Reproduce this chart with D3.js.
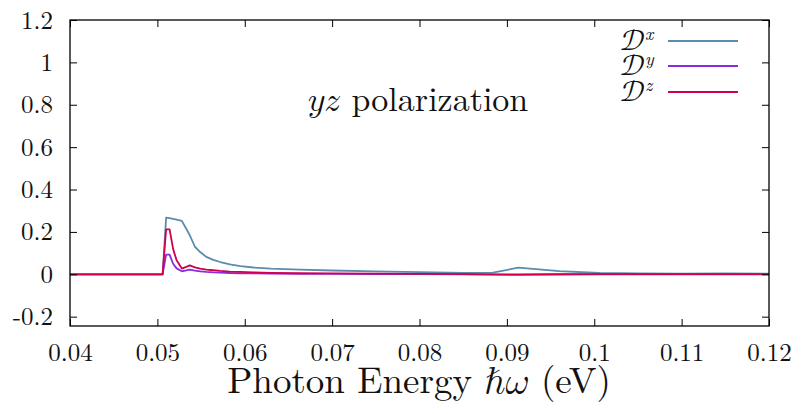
<!DOCTYPE html>
<html>
<head>
<meta charset="utf-8">
<script src="https://cdn.jsdelivr.net/npm/d3@7"></script>
<style>
  html, body { margin: 0; padding: 0; background: #fff; }
  svg { display: block; }
</style>
</head>
<body>
<svg id="chart" width="801" height="414"></svg>
<script>
// Photon energy grid (eV)
const energy = [0.04, 0.0506, 0.0510, 0.0514, 0.0518, 0.0522, 0.0528, 0.0533, 0.0537, 0.0543,
  0.0549, 0.0556, 0.0564, 0.0572, 0.0583, 0.0595, 0.061, 0.063, 0.0663, 0.07,
  0.075, 0.08, 0.085, 0.0884, 0.0913, 0.096, 0.1006, 0.105, 0.11, 0.115, 0.12];

// Spectra for each component
const dx = [0, 0, 0.267, 0.265, 0.262, 0.258, 0.252, 0.215, 0.185, 0.13,
  0.105, 0.082, 0.068, 0.058, 0.047, 0.039, 0.032, 0.027, 0.022, 0.018,
  0.014, 0.010, 0.006, 0.008, 0.031, 0.015, 0.006, 0.004, 0.003, 0.004, 0.003];
const dy = [0, 0, 0.093, 0.093, 0.05, 0.028, 0.014, 0.018, 0.022, 0.017,
  0.014, 0.011, 0.009, 0.008, 0.006, 0.005, 0.004, 0.003, 0.002, 0.002,
  0.001, 0.001, 0.0, -0.002, -0.003, -0.001, 0.0, 0.0, 0.0, 0.0, 0.0];
const dz = [0, 0, 0.212, 0.212, 0.12, 0.066, 0.027, 0.035, 0.042, 0.033,
  0.027, 0.022, 0.019, 0.016, 0.013, 0.011, 0.009, 0.007, 0.005, 0.004,
  0.003, 0.002, 0.001, 0.0, 0.0, 0.001, 0.001, 0.001, 0.001, 0.001, 0.001];

const seriesNames = ["x", "y", "z"];
const seriesColors = ["#5b8cad", "#8a2be2", "#d1004f"];
const seriesValues = [dx, dy, dz];

const xTicks = [0.04, 0.05, 0.06, 0.07, 0.08, 0.09, 0.1, 0.11, 0.12];
const yTicks = [-0.2, 0, 0.2, 0.4, 0.6, 0.8, 1, 1.2];

const ROMAN = '"Latin Modern Roman", "Liberation Serif", serif';
const MATH = '"Latin Modern Math", "Latin Modern Roman", "Liberation Serif", serif';

const svg = d3.select("#chart");
const m = { left: 70, right: 769, top: 20, bottom: 326 };

const x = d3.scaleLinear().domain([0.04, 0.12]).range([m.left, m.right]);
const y = d3.scaleLinear().domain([-0.244, 1.2]).range([m.bottom, m.top]);

const fmt = v => (v === 0 ? "0" : String(+v.toFixed(3)));

// Curves
const line = d3.line().x((d, i) => x(energy[i])).y(d => y(d));
const plot = svg.append("g");
seriesValues.forEach((vals, k) => {
  plot.append("path")
    .datum(vals)
    .attr("d", line)
    .attr("fill", "none")
    .attr("stroke", seriesColors[k])
    .attr("stroke-width", 1.8)
    .attr("stroke-linejoin", "round");
});

// Axes with inward, mirrored ticks
const tickLen = 7;
const axB = d3.axisBottom(x).tickValues(xTicks).tickSize(-tickLen).tickPadding(17).tickFormat(fmt);
const axT = d3.axisTop(x).tickValues(xTicks).tickSize(-tickLen).tickFormat("");
const axL = d3.axisLeft(y).tickValues(yTicks).tickSize(-tickLen).tickPadding(17).tickFormat(fmt);
const axR = d3.axisRight(y).tickValues(yTicks).tickSize(-tickLen).tickFormat("");

function style(g) {
  g.attr("font-family", null).attr("font-size", null);
  g.select(".domain").remove();
  g.selectAll(".tick line").attr("stroke", "#000").attr("stroke-width", 1);
  g.selectAll(".tick text")
    .style("font-family", ROMAN).style("font-size", "25px").attr("fill", "#111");
}
svg.append("g").attr("transform", `translate(0,${m.bottom})`).call(axB).call(style);
svg.append("g").attr("transform", `translate(0,${m.top})`).call(axT).call(style);
svg.append("g").attr("transform", `translate(${m.left},0)`).call(axL).call(style);
svg.append("g").attr("transform", `translate(${m.right},0)`).call(axR).call(style);

// Frame
svg.append("rect")
  .attr("x", m.left).attr("y", m.top)
  .attr("width", m.right - m.left).attr("height", m.bottom - m.top)
  .attr("fill", "none").attr("stroke", "#000").attr("stroke-width", 1.3);

// Axis title
const xt = svg.append("text")
  .attr("x", 419).attr("y", 393)
  .attr("text-anchor", "middle").attr("fill", "#111")
  .style("font-family", ROMAN).style("font-size", "37px");
xt.append("tspan").text("Photon Energy ");
xt.append("tspan").style("font-family", MATH).text("\u210F\u{1D714}");
xt.append("tspan").text(" (eV)");

// Annotation
const ann = svg.append("text")
  .attr("x", 418).attr("y", 111)
  .attr("text-anchor", "middle").attr("fill", "#111")
  .style("font-family", ROMAN).style("font-size", "34px");
ann.append("tspan").style("font-family", MATH).text("\u{1D466}\u{1D467}");
ann.append("tspan").text(" polarization");

// Legend
const legY = [41, 66, 92];
seriesNames.forEach((n, k) => {
  svg.append("text")
    .attr("x", 645).attr("y", legY[k] + 9)
    .attr("text-anchor", "end").attr("fill", "#111")
    .style("font-family", MATH).style("font-size", "29px")
    .text("\u{1D49F}");
  svg.append("text")
    .attr("x", 645).attr("y", legY[k] - 1)
    .attr("fill", "#111")
    .style("font-family", ROMAN).style("font-size", "18px").style("font-style", "italic")
    .text(n);
  svg.append("line")
    .attr("x1", 668).attr("x2", 738)
    .attr("y1", legY[k]).attr("y2", legY[k])
    .attr("stroke", seriesColors[k]).attr("stroke-width", 1.8);
});
</script>
</body>
</html>
